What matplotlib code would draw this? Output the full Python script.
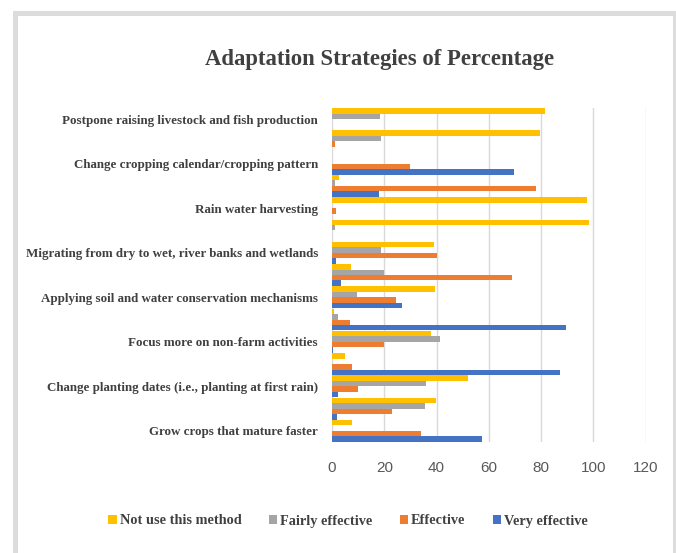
import numpy as np
import matplotlib
matplotlib.use("Agg")
import matplotlib.pyplot as plt
from matplotlib.patches import Rectangle

# categories bottom to top, only every other one gets a label (like the Excel original)
categories = [
    "Grow crops that mature faster", "",
    "Change planting dates (i.e., planting at first rain)", "",
    "Focus more on non-farm activities", "",
    "Applying soil and water conservation mechanisms", "",
    "Migrating from dry to wet, river banks and wetlands", "",
    "Rain water harvesting", "",
    "Change cropping calendar/cropping pattern", "",
    "Postpone raising livestock and fish production",
]

very_effective = [57.3, 1.8, 2.2, 87.2, 0.5, 89.5, 26.7, 3.4, 1.4, 0, 0, 18.0, 69.6, 0, 0]
effective = [34.0, 22.9, 9.8, 7.5, 20.0, 6.9, 24.5, 69.0, 40.0, 0, 1.7, 78.0, 29.9, 1.0, 0]
fairly_effective = [0, 35.4, 35.9, 0, 41.5, 2.4, 9.5, 20.0, 18.9, 1.3, 0, 1.2, 0, 18.8, 18.5]
not_use = [7.8, 39.8, 51.9, 5.0, 37.9, 0.9, 39.5, 7.3, 39.0, 98.5, 97.7, 2.7, 0, 79.7, 81.5]

series = [
    ("Very effective", very_effective, "#4472C4"),
    ("Effective", effective, "#ED7D31"),
    ("Fairly effective", fairly_effective, "#A5A5A5"),
    ("Not use this method", not_use, "#FFC000"),
]

W, H = 676, 553
fig = plt.figure(figsize=(W / 100, H / 100), dpi=100)
fig.patch.set_facecolor("white")

# light gray frame around the chart
fig.add_artist(Rectangle((15 / W, -10 / H), 660 / W, (H - 13 + 10) / H,
                         transform=fig.transFigure, fill=False,
                         edgecolor="#dcdcdc", linewidth=3.6))

ax = fig.add_axes([332 / W, 1 - 442 / H, 313.7 / W, 334 / H])

y = np.arange(1, len(categories) + 1)
h = 0.245
for i, (name, vals, color) in enumerate(series):
    ax.barh(y + (i - 1.5) * h, vals, height=h, color=color, label=name, zorder=3)

ax.set_xlim(0, 120)
ax.set_ylim(0.5, len(categories) + 0.5)
ax.set_xticks(range(0, 121, 20))
ax.grid(axis="x", color="#d9d9d9", linewidth=1, zorder=0)
for s in ax.spines.values():
    s.set_visible(False)
ax.tick_params(axis="both", length=0)
ax.tick_params(axis="x", pad=14, labelsize=11, labelcolor="#595959")

lab_pos = [p for p, c in zip(y, categories) if c]
ax.set_yticks(lab_pos)
ax.set_yticklabels([c for c in categories if c], family="Liberation Serif",
                   fontweight="bold", fontsize=9.4, color="#404040")
ax.tick_params(axis="y", pad=10)
for t in ax.get_xticklabels():
    t.set_family("Liberation Sans")

fig.text(380 / W, 1 - 60 / H, "Adaptation Strategies of Percentage",
         ha="center", va="center", family="Liberation Serif", fontweight="bold",
         fontsize=16.4, color="#404040")

handles, labels = ax.get_legend_handles_labels()
leg = fig.legend(handles[::-1], labels[::-1], loc="center", bbox_to_anchor=(348 / W, 1 - 521 / H),
                 ncol=4, frameon=False, handlelength=0.6, handleheight=0.6,
                 handletextpad=0.2, columnspacing=1.9,
                 prop={"family": "Liberation Serif", "weight": "bold", "size": 10.3})
for t in leg.get_texts():
    t.set_color("#404040")

fig.savefig("out.png", dpi=100)
